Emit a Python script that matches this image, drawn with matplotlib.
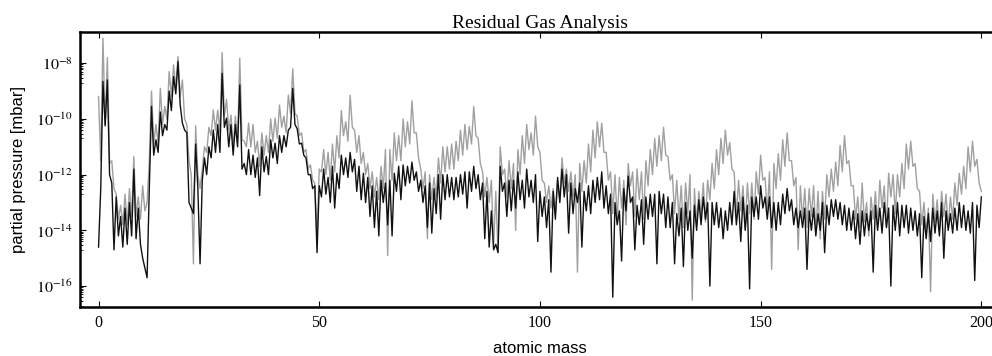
import numpy as np
import matplotlib
matplotlib.use("Agg")
import matplotlib.pyplot as plt
from matplotlib.ticker import FixedLocator, FuncFormatter

# ---- data: log10 partial pressure [mbar] ----
# peak values at integer masses 0..200, valley values at half masses 0.5..199.5
masses = list(range(0, 201))

gray_peak_log = [
    -9.2, -7.1, -7.8, -11.5, -12.7, -13.1, -12.7, -12.5, -11.35, -12.8,
    -12.4, -13.0, -9.0, -10.2, -8.9, -9.55, -8.3, -8.06, -7.76, -8.6,
    -10.2, -12.0, -10.25, -12.5, -11.0, -10.3, -9.68, -9.68, -7.62, -9.3,
    -9.86, -9.9, -7.82, -10.8, -10.15, -10.2, -10.8, -10.5, -10.6, -10.0,
    -9.97, -9.5, -9.9, -9.14, -8.2, -9.9, -10.5, -11.1, -11.65, -12.3,
    -11.8, -11.1, -11.2, -10.9, -10.6, -9.7, -10.1, -9.15, -10.4, -10.6,
    -11.2, -11.6, -11.9, -12.1, -11.7, -11.1, -11.1, -10.5, -10.6, -10.0,
    -10.1, -9.35, -10.5, -11.8, -11.9, -12.0, -12.1, -11.4, -11.0, -11.0,
    -10.9, -10.8, -10.4, -10.2, -10.27, -9.55, -10.7, -11.9, -12.1, -12.2,
    -12.6, -11.0, -11.8, -11.5, -11.6, -11.1, -10.6, -10.2, -10.5, -9.9,
    -11.2, -12.3, -12.4, -12.5, -12.2, -11.4, -11.8, -11.9, -12.0, -11.6,
    -11.5, -10.9, -10.4, -10.1, -10.15, -11.2, -11.9, -12.0, -12.1, -12.2,
    -11.6, -11.9, -11.8, -11.9, -11.5, -11.1, -10.7, -10.6, -10.3, -11.35,
    -12.0, -12.2, -12.4, -12.3, -12.0, -12.5, -12.6, -12.3, -12.2, -11.6,
    -11.1, -10.7, -10.4, -10.85, -11.9, -12.2, -12.4, -12.3, -12.3, -11.9,
    -11.3, -12.1, -11.9, -11.6, -11.25, -10.75, -10.5, -11.5, -12.1, -12.4,
    -12.5, -12.5, -12.4, -12.6, -12.6, -12.0, -11.8, -11.55, -10.95, -10.6,
    -11.5, -12.4, -12.8, -12.3, -13.0, -12.8, -12.6, -12.2, -12.4, -11.95,
    -12.0, -12.0, -11.6, -10.9, -10.8, -11.6, -12.6, -13.0, -13.2, -12.7,
    -12.9, -12.6, -12.7, -12.8, -12.3, -11.95, -11.7, -11.0, -10.8, -11.45,
    -12.6,
]

gray_valley_log = [
    -11.5, -10.2, -11.6, -12.5, -13.6, -13.8, -13.8, -13.5, -13.5, -13.6,
    -13.3, -11.5, -10.9, -10.9, -10.2, -10.0, -9.2, -8.9, -9.2, -10.0,
    -11.5, -15.2, -12.0, -11.8, -11.2, -10.6, -10.4, -10.5, -9.9, -10.4,
    -11.0, -10.7, -10.75, -11.0, -11.0, -11.2, -11.7, -11.3, -11.2, -10.8,
    -10.7, -10.3, -10.5, -9.8, -9.8, -10.6, -11.2, -11.8, -12.2, -14.3,
    -11.9, -12.0, -12.2, -11.9, -11.4, -10.6, -10.8, -10.3, -11.2, -11.6,
    -12.0, -12.5, -12.8, -12.9, -12.5, -14.9, -12.2, -11.5, -11.5, -11.0,
    -10.9, -10.5, -11.4, -12.5, -14.3, -12.9, -12.8, -12.3, -11.9, -11.8,
    -11.8, -11.5, -11.3, -11.1, -10.9, -10.6, -11.6, -12.8, -13.0, -14.6,
    -14.8, -12.0, -12.8, -12.5, -14.0, -12.0, -11.6, -11.1, -11.3, -11.0,
    -12.2, -13.0, -13.2, -13.4, -12.9, -12.3, -12.6, -12.8, -15.5, -12.6,
    -12.3, -11.9, -11.4, -11.0, -11.2, -12.2, -13.4, -13.6, -13.2, -13.8,
    -12.4, -13.5, -12.9, -13.6, -12.4, -12.0, -11.7, -11.5, -11.3, -12.2,
    -13.4, -13.6, -13.9, -13.4, -16.5, -13.8, -13.5, -13.7, -12.9, -12.5,
    -12.0, -11.6, -11.3, -11.8, -13.5, -13.3, -13.9, -13.4, -13.6, -12.7,
    -12.2, -13.4, -15.4, -12.5, -12.2, -11.7, -11.5, -12.4, -14.7, -13.6,
    -13.9, -13.5, -14.1, -14.3, -13.6, -12.8, -12.6, -12.4, -11.9, -11.6,
    -12.4, -13.6, -13.9, -13.7, -14.2, -13.6, -13.8, -13.2, -13.9, -12.8,
    -13.4, -12.8, -12.5, -11.8, -11.7, -12.5, -13.8, -14.1, -16.2, -13.7,
    -14.0, -13.5, -13.9, -13.6, -13.1, -12.7, -12.5, -11.9, -11.7, -12.3,
]

black_peak_log = [
    -14.6, -8.65, -8.6, -12.3, -12.8, -13.5, -13.2, -13.0, -11.8, -13.2,
    -15.0, -15.7, -9.55, -10.75, -9.75, -10.2, -9.0, -8.48, -7.94, -10.15,
    -10.5, -13.2, -10.9, -15.2, -11.4, -11.0, -10.4, -10.2, -8.36, -9.97,
    -10.2, -10.2, -8.78, -11.6, -11.1, -11.3, -11.4, -11.0, -11.35, -10.75,
    -10.87, -10.6, -10.6, -10.4, -8.9, -10.35, -10.87, -11.4, -12.0, -12.4,
    -12.4, -11.8, -12.1, -11.7, -11.95, -11.3, -11.4, -11.2, -11.45, -11.7,
    -11.95, -12.1, -12.4, -12.6, -12.2, -12.3, -12.2, -11.95, -11.7, -11.65,
    -11.7, -11.55, -11.9, -12.2, -12.4, -12.3, -12.5, -12.0, -12.0, -12.0,
    -12.1, -12.1, -12.0, -11.9, -11.9, -11.7, -12.0, -12.3, -12.6, -13.3,
    -14.5, -11.7, -12.3, -12.2, -12.2, -11.9, -12.2, -11.8, -12.2, -12.0,
    -12.6, -12.8, -12.9, -12.6, -12.1, -11.8, -12.0, -12.3, -12.5, -12.3,
    -12.6, -12.4, -12.2, -12.1, -11.9, -12.4, -12.7, -13.0, -13.3, -12.5,
    -12.05, -12.8, -13.1, -12.9, -12.8, -12.7, -12.7, -12.6, -12.7, -12.8,
    -13.0, -13.4, -13.2, -13.0, -13.3, -13.1, -12.9, -12.8, -13.0, -13.0,
    -13.0, -13.2, -13.3, -13.0, -12.6, -13.0, -12.8, -13.1, -12.8, -12.8,
    -12.4, -12.8, -12.8, -13.0, -13.0, -12.7, -12.5, -12.9, -13.2, -13.3,
    -13.2, -13.3, -13.2, -13.4, -13.0, -13.1, -12.9, -12.9, -13.0, -13.1,
    -13.2, -13.3, -13.4, -13.3, -13.4, -13.3, -13.1, -13.2, -13.0, -13.2,
    -13.1, -13.0, -13.1, -13.1, -13.2, -13.3, -13.4, -13.5, -13.4, -13.2,
    -13.3, -13.0, -13.3, -13.4, -13.2, -13.0, -13.1, -13.3, -13.0, -13.1,
    -12.8,
]

black_valley_log = [
    -12.5, -10.25, -12.0, -14.7, -14.2, -14.6, -14.5, -14.2, -14.3, -14.5,
    -15.35, -12.5, -11.3, -11.2, -10.6, -10.4, -9.7, -9.1, -9.5, -10.4,
    -13.0, -13.4, -12.5, -12.2, -12.0, -11.4, -11.2, -11.2, -10.3, -11.0,
    -11.3, -11.0, -11.8, -12.0, -12.0, -12.1, -12.75, -11.9, -12.0, -11.4,
    -11.6, -11.2, -11.0, -10.3, -10.2, -10.9, -11.3, -12.0, -12.5, -14.8,
    -12.8, -12.7, -13.0, -13.2, -12.5, -12.0, -12.1, -11.9, -12.6, -12.9,
    -13.0, -13.5, -13.9, -14.2, -13.0, -13.8, -14.2, -12.6, -12.9, -12.4,
    -12.3, -12.2, -12.6, -13.0, -13.9, -14.1, -13.4, -13.6, -12.9, -12.8,
    -12.9, -12.8, -12.7, -13.2, -12.6, -12.5, -12.9, -14.3, -14.6, -14.7,
    -14.8, -12.6, -13.5, -13.3, -13.2, -12.9, -13.2, -12.8, -13.0, -14.4,
    -13.5, -13.9, -15.5, -13.6, -13.0, -12.8, -14.1, -13.4, -13.0, -14.6,
    -13.3, -13.4, -13.0, -12.9, -13.2, -13.4, -16.4, -13.8, -15.1, -13.3,
    -13.0, -14.7, -13.8, -14.5, -13.6, -13.5, -15.2, -13.4, -13.9, -13.9,
    -15.2, -14.2, -15.3, -14.0, -15.0, -14.0, -13.8, -13.6, -16.0, -13.8,
    -13.9, -14.3, -14.0, -13.8, -13.8, -14.4, -14.0, -16.1, -13.5, -13.6,
    -13.2, -13.6, -13.9, -14.0, -13.8, -13.4, -13.3, -13.8, -13.9, -13.9,
    -15.4, -14.0, -14.2, -14.0, -14.8, -13.8, -13.5, -13.6, -13.8, -14.0,
    -14.0, -14.3, -14.5, -14.2, -14.0, -15.5, -14.0, -14.1, -13.9, -16.0,
    -14.0, -14.2, -13.9, -14.1, -14.0, -14.2, -15.7, -14.3, -14.4, -14.1,
    -14.2, -15.0, -14.0, -14.1, -14.0, -13.9, -14.0, -14.1, -15.8, -13.9,
]

x_ticks = [0, 50, 100, 150, 200]
y_tick_exponents = [-8, -10, -12, -14, -16]

# ---- assemble the traces (peaks at integer masses, valleys between) ----
def trace(peaks, valleys):
    m = np.asarray(masses, dtype=float)
    x = np.empty(len(peaks) + len(valleys))
    y = np.empty_like(x)
    x[0::2] = m
    x[1::2] = m[:-1] + 0.5
    y[0::2] = peaks
    y[1::2] = valleys
    return x, 10.0 ** y

xg, yg = trace(gray_peak_log, gray_valley_log)
xb, yb = trace(black_peak_log, black_valley_log)

plt.rcParams["mathtext.fontset"] = "stix"

W, H = 992, 356
fig = plt.figure(figsize=(W / 100, H / 100), dpi=100)
left_px, right_px, top_px, bot_px = 80, 999, 32.3, 306.7
ax = fig.add_axes([left_px / W, 1 - bot_px / H, (right_px - left_px) / W, (bot_px - top_px) / H])

ax.plot(xg, yg, color="#a0a0a0", lw=1.0, solid_joinstyle="round")
ax.plot(xb, yb, color="#111111", lw=1.0, solid_joinstyle="round")

ax.set_yscale("log")
ax.set_xlim(-4.2, 204)
ax.set_ylim(10 ** -16.74, 10 ** -6.89)

ax.yaxis.set_major_locator(FixedLocator([10.0 ** e for e in y_tick_exponents]))
ax.yaxis.set_major_formatter(FuncFormatter(lambda v, p: r"$10^{%d}$" % round(np.log10(v))))
minor = [s * 10.0 ** (e - 1) for e in y_tick_exponents for s in range(2, 10)]
ax.yaxis.set_minor_locator(FixedLocator(minor))
ax.yaxis.set_minor_formatter(FuncFormatter(lambda v, p: ""))
ax.xaxis.set_major_locator(FixedLocator(x_ticks))

ax.tick_params(axis="both", which="both", direction="in", top=True, right=False)
ax.tick_params(axis="both", which="major", length=4, width=0.8, labelsize=11.5)
ax.tick_params(axis="x", which="major", pad=6)
ax.tick_params(axis="y", which="major", pad=5)
ax.tick_params(axis="y", which="minor", length=2.5, width=0.6)
for lab in ax.get_xticklabels():
    lab.set_fontfamily("Liberation Serif")
for s in ax.spines.values():
    s.set_linewidth(1.8)

ax.set_title("Residual Gas Analysis", fontfamily="Liberation Serif", fontsize=14, pad=3)
ax.set_xlabel("atomic mass", fontfamily="Liberation Sans", fontsize=12, labelpad=7)
ax.set_ylabel("partial pressure [mbar]", fontfamily="Liberation Sans", fontsize=12, labelpad=7)

fig.savefig("out.png", dpi=100)
